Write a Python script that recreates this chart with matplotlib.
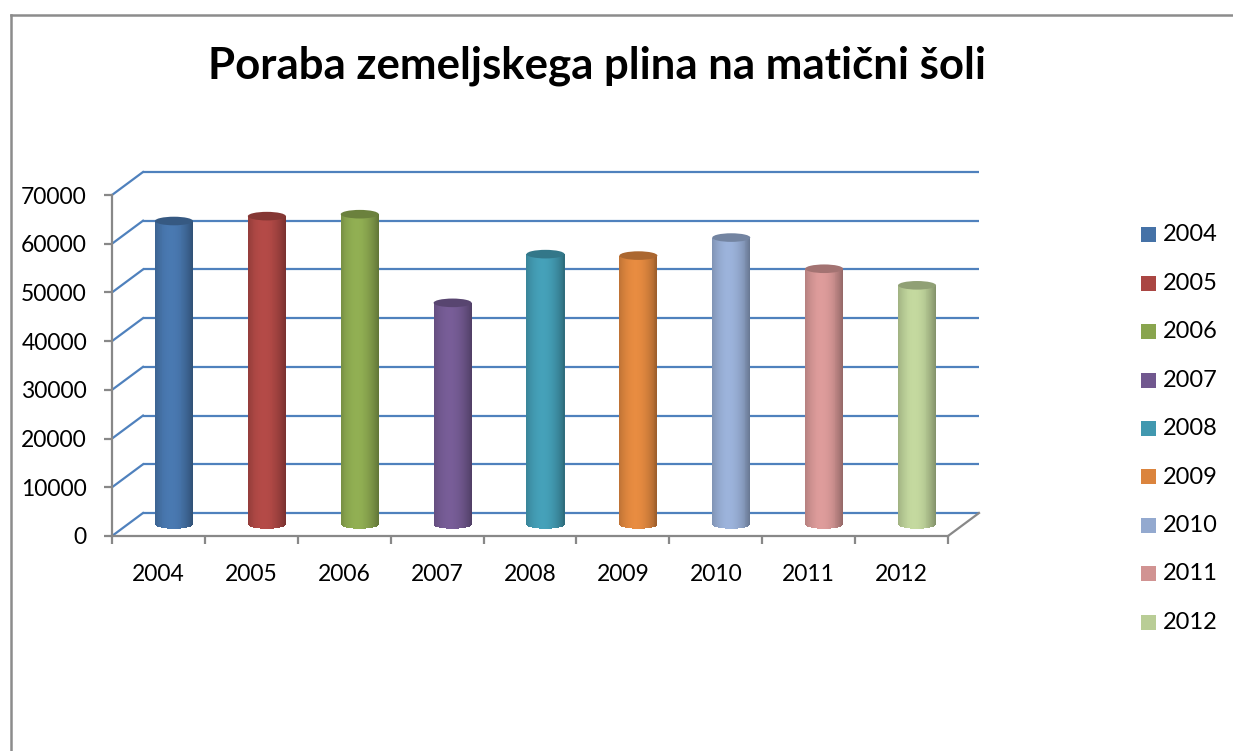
import matplotlib
matplotlib.use('Agg')
import matplotlib.pyplot as plt
from matplotlib.patches import Ellipse, Rectangle
from matplotlib.lines import Line2D
import matplotlib.colors as mcolors
import numpy as np

plt.rcParams['font.family'] = ['Lato', 'DejaVu Sans']

years = ['2004', '2005', '2006', '2007', '2008', '2009', '2010', '2011', '2012']
values = [62300, 63300, 63700, 45500, 55500, 55200, 58900, 52500, 49100]
colors = ['#4572A7', '#AA4643', '#89A54E', '#71588F', '#4198AF',
          '#DB843D', '#93A9CF', '#D19392', '#B9CD96']
yticks = [0, 10000, 20000, 30000, 40000, 50000, 60000, 70000]
title = 'Poraba zemeljskega plina na matični šoli'

W, H = 1233, 751
fig = plt.figure(figsize=(W / 100, H / 100), dpi=100)

# front plane of the plot area, in pixels
left, right, bottom, top = 112, 948, 536, 195
ax = fig.add_axes([left / W, 1 - bottom / H, (right - left) / W, (bottom - top) / H])
n = len(years)
ymax = 70000
ax.set_xlim(-0.5, n - 0.5)
ax.set_ylim(0, ymax)

# 3d depth offset (31 px right, 23 px up) in data units
px_x = (right - left) / n
px_y = (bottom - top) / ymax
DX = 31 / px_x
DY = 23 / px_y

grid_col = '#4F81BD'
axis_col = '#888888'

# back wall gridlines + side wall diagonals
for v in yticks:
    ax.plot([-0.5 + DX, n - 0.5 + DX], [v + DY, v + DY], color=grid_col,
            lw=1.6, clip_on=False, zorder=1, solid_capstyle='butt')
    ax.plot([-0.5, -0.5 + DX], [v, v + DY], color=grid_col, lw=1.6,
            clip_on=False, zorder=1)
# right floor edge
ax.plot([n - 0.5, n - 0.5 + DX], [0, DY], color=axis_col, lw=1.6,
        clip_on=False, zorder=1)

# cylinders at mid depth
bw = 38 / px_x
e = 4.3 / px_y
ns = 40
u = np.linspace(-1, 1, ns + 1)
u = (u[:-1] + u[1:]) / 2
shade = 0.7 + 0.36 * np.clip(1 - ((u + 0.15) / 1.15) ** 2, 0, 1)
for i, (val, c) in enumerate(zip(values, colors)):
    base = np.array(mcolors.to_rgb(c))
    xc = i + DX / 2
    y0 = DY / 2
    xs = xc + u * bw / 2
    bots = y0 - e * np.sqrt(1 - u ** 2)
    cols = [np.clip(base * s, 0, 1) for s in shade]
    ax.bar(xs, y0 + val - bots, bottom=bots, width=bw / ns * 1.15,
           color=cols, edgecolor='none', linewidth=0, clip_on=False,
           zorder=3)
    ax.add_patch(Ellipse((xc, y0 + val), bw, 2 * e,
                         facecolor=np.clip(base * 0.78, 0, 1),
                         edgecolor='none', clip_on=False, zorder=4))

# axes
for s in ['top', 'right']:
    ax.spines[s].set_visible(False)
for s in ['left', 'bottom']:
    ax.spines[s].set_color(axis_col)
    ax.spines[s].set_linewidth(1.6)
    ax.spines[s].set_zorder(5)
ax.set_yticks(yticks)
ax.set_yticklabels([str(v) for v in yticks])
ax.set_xticks(np.arange(n + 1) - 0.5)
ax.set_xticklabels([])
ax.set_xticks(np.arange(n), minor=True)
ax.set_xticklabels(years, minor=True)
ax.tick_params(axis='y', length=6, width=1.6, color=axis_col, pad=12,
               labelsize=16.5)
ax.tick_params(axis='x', which='major', length=6, width=1.6, color=axis_col)
ax.tick_params(axis='x', which='minor', length=0, pad=20, labelsize=16.5)
ax.patch.set_visible(False)

# title
fig.text(597 / W, 1 - 78 / H, title, ha='center', va='baseline',
         fontsize=31.5, fontweight='bold')

# legend
for k, (yr, c) in enumerate(zip(years, colors)):
    yc = 235 + k * 48.4
    fig.patches.append(Rectangle((1141 / W, 1 - (yc + 7.5) / H), 15 / W, 15 / H,
                                 transform=fig.transFigure, facecolor=c,
                                 edgecolor='none'))
    fig.text(1163 / W, 1 - yc / H, yr, ha='left', va='center', fontsize=17)

# chart border
fig.lines.append(Line2D([11 / W, 11 / W], [0, 1 - 15 / H], transform=fig.transFigure,
                        color='#8C8C8C', lw=1.8))
fig.lines.append(Line2D([11 / W, 1], [1 - 15 / H, 1 - 15 / H], transform=fig.transFigure,
                        color='#8C8C8C', lw=1.8))

fig.savefig('out.png', dpi=100)
